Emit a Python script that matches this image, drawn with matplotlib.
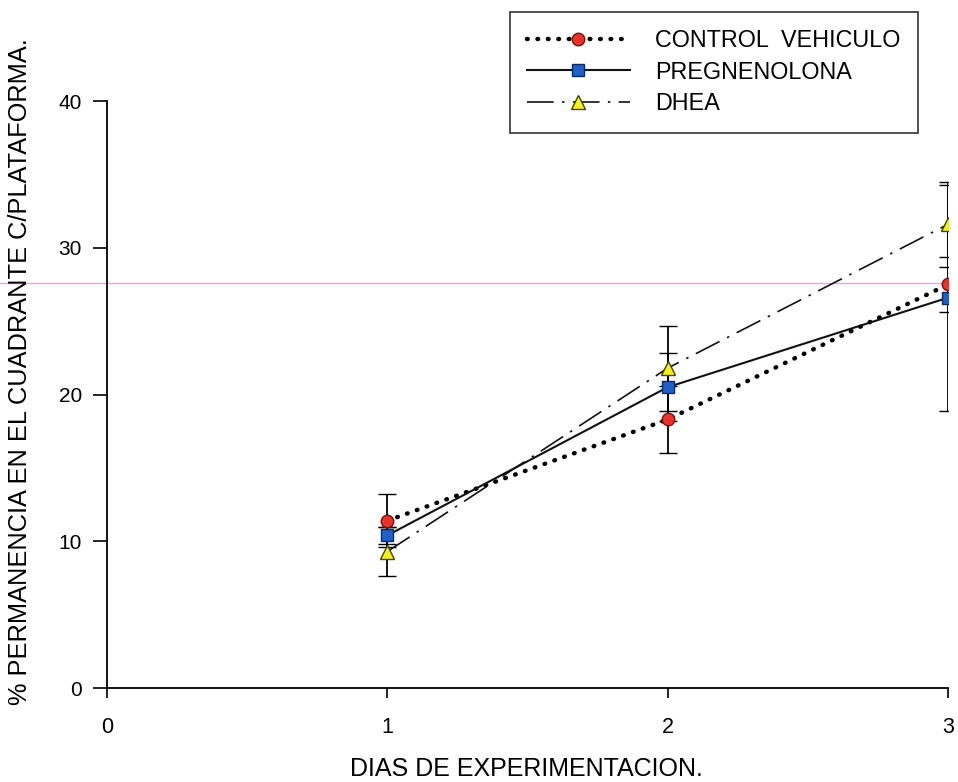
import matplotlib

matplotlib.use("Agg")
import matplotlib.pyplot as plt
from matplotlib.lines import Line2D

# values
dias = [1, 2, 3]
control = [11.4, 18.3, 27.5]
control_err = [1.8, 2.3, 1.9]
pregnenolona = [10.4, 20.5, 26.6]
pregnenolona_err = [0.6, 2.3, 7.7]
dhea = [9.3, 21.8, 31.6]
dhea_err = [1.7, 2.9, 2.9]

labels = ["CONTROL  VEHICULO", "PREGNENOLONA", "DHEA"]
x_ticks = [0, 1, 2, 3]
y_ticks = [0, 10, 20, 30, 40]

plt.rcParams["font.family"] = ["Liberation Sans", "DejaVu Sans"]

fig = plt.figure(figsize=(9.58, 7.82), dpi=100)
ax = fig.add_axes([0.1117, 0.1202, 0.8779, 0.7506])
ax.set_facecolor("none")

err_kw = dict(ecolor="black", elinewidth=1.3, capsize=6.5, capthick=1.3, zorder=2)

control_style = dict(color="black", lw=3.2, linestyle=(0, (0.15, 2.2)),
                     dash_capstyle="round", marker="o", ms=9,
                     mfc="#e8322a", mec="#7a1010", mew=1.0)
preg_style = dict(color="#111111", lw=1.5, linestyle="-", marker="s", ms=8,
                  mfc="#1f5fc8", mec="#0a2a66", mew=1.0)
dhea_style = dict(color="#111111", lw=1.2, linestyle=(0, (16, 5, 1.5, 5)),
                  marker="^", ms=10, mfc="#f5f020", mec="#444400", mew=1.0)

ax.errorbar(dias, control, yerr=control_err, **control_style, **err_kw)
ax.errorbar(dias, pregnenolona, yerr=pregnenolona_err, **preg_style, **err_kw)
ax.errorbar(dias, dhea, yerr=dhea_err, **dhea_style, **err_kw)

ax.set_xlim(0, 3)
ax.set_ylim(0, 40)
ax.set_xticks(x_ticks)
ax.set_yticks(y_ticks)
for side in ("top", "right"):
    ax.spines[side].set_visible(False)
for side in ("left", "bottom"):
    ax.spines[side].set_linewidth(1.3)
ax.tick_params(axis="y", direction="out", length=10, width=1.2, pad=8, labelsize=15)
ax.tick_params(axis="x", direction="out", length=7, width=1.2, pad=14, labelsize=15.5)

fig.text(0.021, 0.525, "% PERMANENCIA EN EL CUADRANTE C/PLATAFORMA.",
         rotation=90, ha="center", va="center", fontsize=18.3)
fig.text(0.549, 0.016, "DIAS DE EXPERIMENTACION.", ha="center", va="center",
         fontsize=18)

handles = [Line2D([], [], **control_style),
           Line2D([], [], **preg_style),
           Line2D([], [], **dhea_style)]
leg = fig.legend(handles, labels, loc="upper left",
                 bbox_to_anchor=(0.532, 0.985), fontsize=16.8,
                 frameon=True, fancybox=False, edgecolor="black",
                 handlelength=4.4, handletextpad=1.1, borderpad=0.75,
                 labelspacing=0.36, borderaxespad=0)
leg.get_frame().set_linewidth(1.2)

# faint scan line across the page
fig.add_artist(Line2D([0, 0.985], [0.638, 0.638], transform=fig.transFigure,
                      color="#eaa2e6", lw=1.0, zorder=0))

fig.savefig("out.png", dpi=100)
